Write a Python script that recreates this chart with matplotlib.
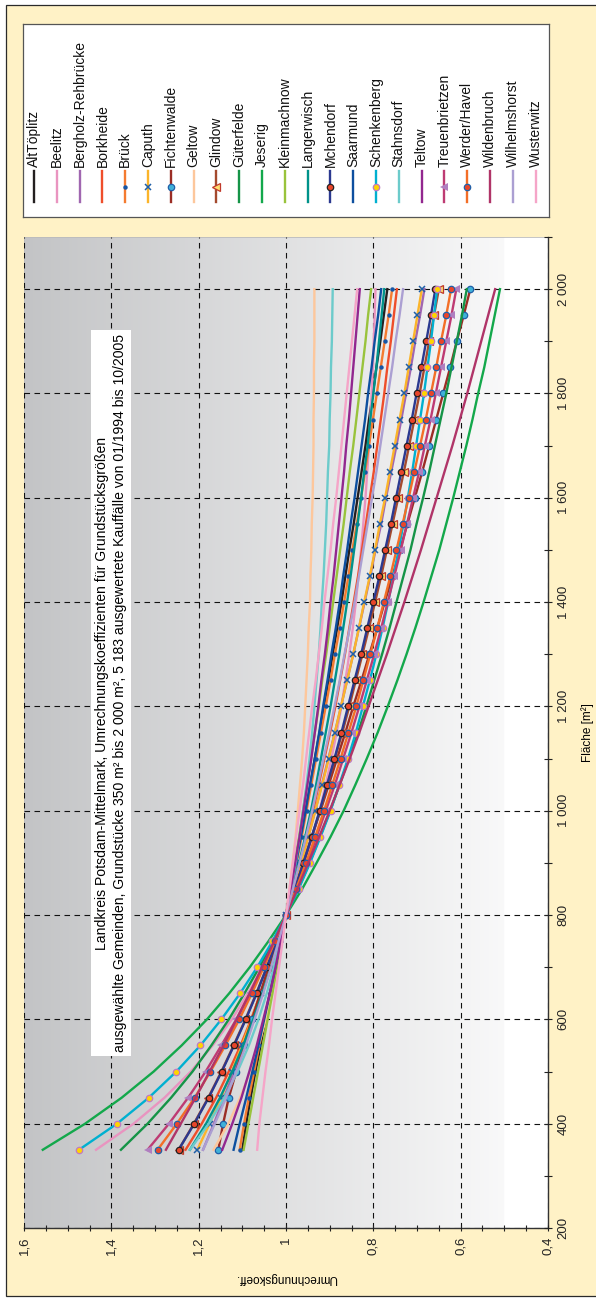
import numpy as np
import matplotlib
matplotlib.use('Agg')
import matplotlib.pyplot as plt
from matplotlib.patches import Rectangle

plt.rcParams['font.family'] = ['Liberation Sans', 'DejaVu Sans']

# Fläche [m2]
flaeche = [350, 400, 450, 500, 550, 600, 650, 700, 750, 800, 850, 900, 950, 1000, 1050, 1100, 1150,
           1200, 1250, 1300, 1350, 1400, 1450, 1500, 1550, 1600, 1650, 1700, 1750, 1800, 1850,
           1900, 1950, 2000]

# Umrechnungskoeffizienten in Tausendstel
alttoeplitz = [1100, 1091, 1081, 1070, 1058, 1047, 1035, 1023, 1012, 1000, 989, 977, 966, 955, 944, 934, 923, 913, 903, 893, 883, 873, 864, 855, 845, 836, 827, 818, 810, 801, 793, 784, 776, 768]
beelitz = [1435, 1349, 1278, 1218, 1168, 1124, 1087, 1054, 1025, 1000, 977, 957, 939, 923, 909, 896, 884, 873, 864, 855, 847, 840, 834, 828, 823, 818, 814, 810, 807, 804, 801, 799, 797, 795]
bergholz = [1190, 1165, 1142, 1119, 1097, 1076, 1056, 1037, 1018, 1000, 982, 966, 949, 933, 918, 903, 888, 874, 860, 846, 833, 820, 807, 795, 782, 771, 759, 747, 736, 725, 714, 704, 693, 683]
borkheide = [1230, 1193, 1160, 1131, 1104, 1080, 1058, 1037, 1018, 1000, 983, 967, 952, 938, 925, 912, 899, 887, 876, 865, 855, 845, 835, 826, 817, 808, 799, 791, 783, 775, 768, 760, 753, 746]
brueck = [1106, 1096, 1085, 1073, 1061, 1049, 1037, 1024, 1012, 1000, 988, 976, 964, 953, 942, 931, 920, 909, 898, 888, 877, 867, 857, 848, 838, 828, 819, 810, 801, 792, 783, 774, 765, 757]
caputh = [1203, 1175, 1149, 1124, 1101, 1079, 1058, 1038, 1018, 1000, 982, 965, 949, 933, 917, 902, 888, 874, 860, 846, 833, 821, 808, 796, 785, 773, 762, 751, 740, 729, 719, 709, 699, 689]
fichtenwalde = [1155, 1144, 1131, 1114, 1097, 1078, 1059, 1040, 1020, 1000, 980, 960, 941, 921, 902, 883, 864, 846, 827, 809, 791, 774, 756, 739, 722, 705, 688, 672, 656, 640, 624, 609, 593, 578]
geltow = [1166, 1132, 1105, 1082, 1063, 1046, 1032, 1020, 1009, 1000, 992, 985, 978, 973, 968, 963, 959, 956, 953, 950, 948, 945, 944, 942, 941, 939, 938, 937, 937, 936, 936, 935, 935, 935]
glindow = [1246, 1211, 1178, 1148, 1120, 1093, 1068, 1044, 1022, 1000, 979, 960, 941, 922, 905, 888, 871, 855, 840, 825, 810, 796, 782, 769, 756, 743, 730, 718, 706, 694, 683, 672, 661, 650]
gueterfelde = [1378, 1317, 1263, 1214, 1171, 1131, 1095, 1061, 1029, 1000, 972, 946, 922, 899, 877, 856, 835, 816, 798, 780, 763, 747, 731, 715, 701, 686, 672, 659, 646, 633, 621, 609, 597, 586]
jeserig = [1557, 1460, 1376, 1303, 1239, 1181, 1130, 1083, 1040, 1000, 963, 930, 898, 868, 841, 815, 790, 767, 745, 724, 704, 685, 667, 649, 633, 617, 602, 587, 573, 560, 546, 534, 522, 510]
kleinmachnow = [1097, 1086, 1075, 1064, 1053, 1042, 1031, 1021, 1010, 1000, 990, 980, 970, 961, 952, 943, 934, 925, 917, 908, 900, 892, 884, 876, 868, 861, 854, 846, 839, 832, 825, 818, 812, 805]
langerwisch = [1220, 1183, 1151, 1123, 1098, 1075, 1054, 1034, 1017, 1000, 985, 970, 956, 943, 931, 920, 909, 898, 888, 878, 869, 860, 852, 844, 836, 828, 821, 813, 807, 800, 793, 787, 781, 775]
michendorf = [1246, 1210, 1177, 1147, 1119, 1092, 1067, 1044, 1021, 1000, 980, 960, 941, 923, 906, 889, 873, 858, 843, 828, 814, 800, 786, 773, 760, 748, 736, 724, 712, 701, 690, 679, 668, 658]
saarmund = [1120, 1106, 1091, 1077, 1063, 1050, 1037, 1024, 1012, 1000, 988, 977, 966, 955, 945, 934, 924, 915, 905, 896, 886, 877, 869, 860, 852, 843, 835, 827, 819, 812, 804, 797, 789, 782]
schenkenberg = [1474, 1387, 1314, 1251, 1196, 1148, 1105, 1066, 1031, 1000, 971, 945, 921, 898, 878, 858, 840, 824, 808, 793, 779, 766, 754, 742, 731, 721, 711, 702, 693, 684, 676, 668, 661, 654]
stahnsdorf = [1220, 1177, 1141, 1111, 1085, 1063, 1044, 1028, 1013, 1000, 988, 978, 969, 961, 953, 946, 940, 935, 930, 925, 921, 918, 914, 911, 908, 906, 904, 901, 900, 898, 897, 895, 894, 893]
teltow = [1146, 1123, 1102, 1084, 1067, 1052, 1037, 1024, 1012, 1000, 989, 979, 969, 960, 951, 942, 934, 926, 919, 911, 904, 898, 891, 885, 879, 873, 867, 862, 856, 851, 846, 841, 836, 831]
treuenbrietzen = [1317, 1268, 1224, 1184, 1148, 1114, 1083, 1053, 1026, 1000, 975, 952, 930, 909, 888, 869, 850, 832, 815, 798, 782, 767, 752, 737, 723, 709, 695, 682, 669, 657, 645, 633, 621, 610]
werder = [1294, 1250, 1209, 1173, 1139, 1107, 1078, 1051, 1025, 1000, 977, 954, 933, 913, 894, 875, 857, 839, 823, 807, 791, 776, 761, 747, 733, 719, 706, 693, 680, 668, 656, 645, 633, 622]
wildenbruch = [1275, 1241, 1207, 1175, 1143, 1113, 1083, 1055, 1027, 1000, 974, 949, 924, 900, 877, 854, 832, 811, 790, 769, 749, 729, 710, 691, 673, 655, 637, 619, 602, 585, 569, 553, 537, 521]
wilhelmshorst = [1190, 1163, 1137, 1114, 1092, 1072, 1052, 1034, 1017, 1000, 984, 969, 954, 940, 927, 914, 901, 889, 877, 866, 854, 843, 833, 823, 813, 803, 793, 784, 775, 766, 757, 749, 740, 732]
wusterwitz = [1066, 1061, 1054, 1047, 1039, 1032, 1024, 1016, 1008, 1000, 992, 984, 977, 969, 961, 954, 947, 940, 932, 925, 918, 912, 905, 898, 892, 885, 879, 873, 867, 861, 855, 849, 843, 837]

gemeinden = ["AltTöplitz", "Beelitz", "Bergholz-Rehbrücke", "Borkheide", "Brück", "Caputh",
             "Fichtenwalde", "Geltow", "Glindow", "Güterfelde", "Jeserig", "Kleinmachnow",
             "Langerwisch", "Mchendorf", "Saarmund", "Schenkenberg", "Stahnsdorf", "Teltow",
             "Treuenbrietzen", "Werder/Havel", "Wildenbruch", "Wilhelmshorst", "Wusterwitz"]
reihen = [alttoeplitz, beelitz, bergholz, borkheide, brueck, caputh, fichtenwalde, geltow,
          glindow, gueterfelde, jeserig, kleinmachnow, langerwisch, michendorf, saarmund,
          schenkenberg, stahnsdorf, teltow, treuenbrietzen, werder, wildenbruch,
          wilhelmshorst, wusterwitz]

farben = ["#231f20", "#e994c0", "#a066b0", "#ef4e2b", "#f47b30", "#fbb42a", "#9b2d25",
          "#fdc79c", "#a44a2e", "#159447", "#13a84b", "#99c33c", "#00928a", "#2b3990",
          "#0d4f9f", "#00b0d0", "#6ccbcb", "#92278f", "#be3b73", "#f36e27", "#b03468",
          "#ab9fd2", "#f5a5c8"]

marker = {
    "Brück": dict(marker="o", ms=3.2, mfc="#1556a6", mec="#1556a6", mew=0),
    "Caputh": dict(marker="x", ms=4.5, mfc="none", mec="#1f5fa8", mew=1.1),
    "Fichtenwalde": dict(marker="o", ms=4.6, mfc="#3fb0d8", mec="#1f5fa8", mew=0.9),
    "Glindow": dict(marker="<", ms=5.5, mfc="#ffe070", mec="#c0392b", mew=0.9),
    "Mchendorf": dict(marker="o", ms=4.6, mfc="#e8452a", mec="#231f20", mew=0.9),
    "Schenkenberg": dict(marker="o", ms=4.6, mfc="#ffd400", mec="#c07ac0", mew=0.9),
    "Treuenbrietzen": dict(marker="<", ms=5.5, mfc="#b07fc0", mec="#b07fc0", mew=0),
    "Werder/Havel": dict(marker="o", ms=4.6, mfc="#e8452a", mec="#1f5fa8", mew=0.9),
}

W, H = 596, 1301
fig = plt.figure(figsize=(W / 100, H / 100), dpi=100, facecolor="white")
fig.patches.append(Rectangle((5.5 / W, 5 / H), 1, 1291 / H, transform=fig.transFigure,
                             facecolor="#fff2c6", edgecolor="#2a2a2a", lw=0.9, zorder=-10))

# Diagramm (gedreht: Koeffizient waagerecht, Fläche senkrecht)
ax = fig.add_axes([24 / W, (H - 1228) / H, 524 / W, (1228 - 237) / H])
ax.set_xlim(1.6, 0.4)
ax.set_ylim(200, 2100)
xs = np.linspace(1.6, 0.4, 600)
grad = np.clip((1.6 - xs) / 1.1, 0, 1)
c0, c1 = np.array([0.765, 0.769, 0.776]), np.array([0.975, 0.975, 0.977])
img = c0 + grad[:, None] * (c1 - c0)
img[xs < 0.5] = 1.0
ax.imshow(img[None, :, :], extent=[1.6, 0.4, 200, 2100], aspect="auto", zorder=0)

for name, werte, col in zip(gemeinden, reihen, farben):
    ax.plot(np.array(werte) / 1000, flaeche, color=col, lw=1.7, zorder=3, **marker.get(name, {}))

ax.set_xticks([1.6, 1.4, 1.2, 1.0, 0.8, 0.6, 0.4])
ax.set_xticklabels(["1,6", "1,4", "1,2", "1", "0,8", "0,6", "0,4"])
ax.set_xticks(np.arange(0.4, 1.61, 0.05), minor=True)
ax.set_yticks(range(200, 2001, 200))
ax.set_yticklabels(["200", "400", "600", "800", "1 000", "1 200", "1 400", "1 600", "1 800", "2 000"])
ax.set_yticks(range(200, 2101, 100), minor=True)
ax.yaxis.tick_right()
ax.tick_params(axis="x", which="both", direction="inout", labelrotation=90, labelsize=9.5,
               colors="#222222", length=5, width=0.8)
ax.tick_params(axis="y", which="both", direction="inout", labelrotation=90, labelsize=9.5,
               colors="#222222", length=6, width=0.8, pad=4)
for lab in ax.get_yticklabels():
    lab.set_va("center")
ax.grid(True, which="major", color="#111111", ls=(0, (5, 4)), lw=0.8, zorder=1)
ax.set_axisbelow(False)
for s in ["top", "left"]:
    ax.spines[s].set_color("#bbbbbb")
    ax.spines[s].set_linewidth(0.6)
for s in ["bottom", "right"]:
    ax.spines[s].set_color("#333333")
    ax.spines[s].set_linewidth(1.0)

ax.set_xlabel("Umrechnungskoeff.", rotation=180, fontsize=8.5, labelpad=12)
ax.yaxis.set_label_position("right")
ax.set_ylabel("Fläche [m²]", rotation=90, fontsize=8.5, labelpad=8)

fig.text(111 / W, (H - 693) / H,
         "Landkreis Potsdam-Mittelmark, Umrechnungskoeffizienten für Grundstücksgrößen\n"
         "ausgewählte Gemeinden, Grundstücke 350 m² bis 2 000 m², 5 183 ausgewertete Kauffälle von 01/1994 bis 10/2005",
         rotation=90, ha="center", va="center", ma="center", fontsize=10.1, linespacing=1.3,
         bbox=dict(facecolor="white", edgecolor="none", pad=3), zorder=5)

# Legende
lg = fig.add_axes([23 / W, (H - 217) / H, 526 / W, 193 / H])
lg.set_xlim(23, 549)
lg.set_ylim(217, 24)
lg.set_xticks([])
lg.set_yticks([])
for s in lg.spines.values():
    s.set_color("#555555")
    s.set_linewidth(0.9)
for i, (name, col) in enumerate(zip(gemeinden, farben)):
    x = 34 + i * 22.8
    lg.plot([x, x], [171, 202], color=col, lw=1.7)
    if name in marker:
        lg.plot([x], [186.5], color=col, **marker[name])
    lg.text(x, 167, name, rotation=90, ha="center", va="bottom", fontsize=10, color="#111111")

fig.savefig("out.png", dpi=100)
